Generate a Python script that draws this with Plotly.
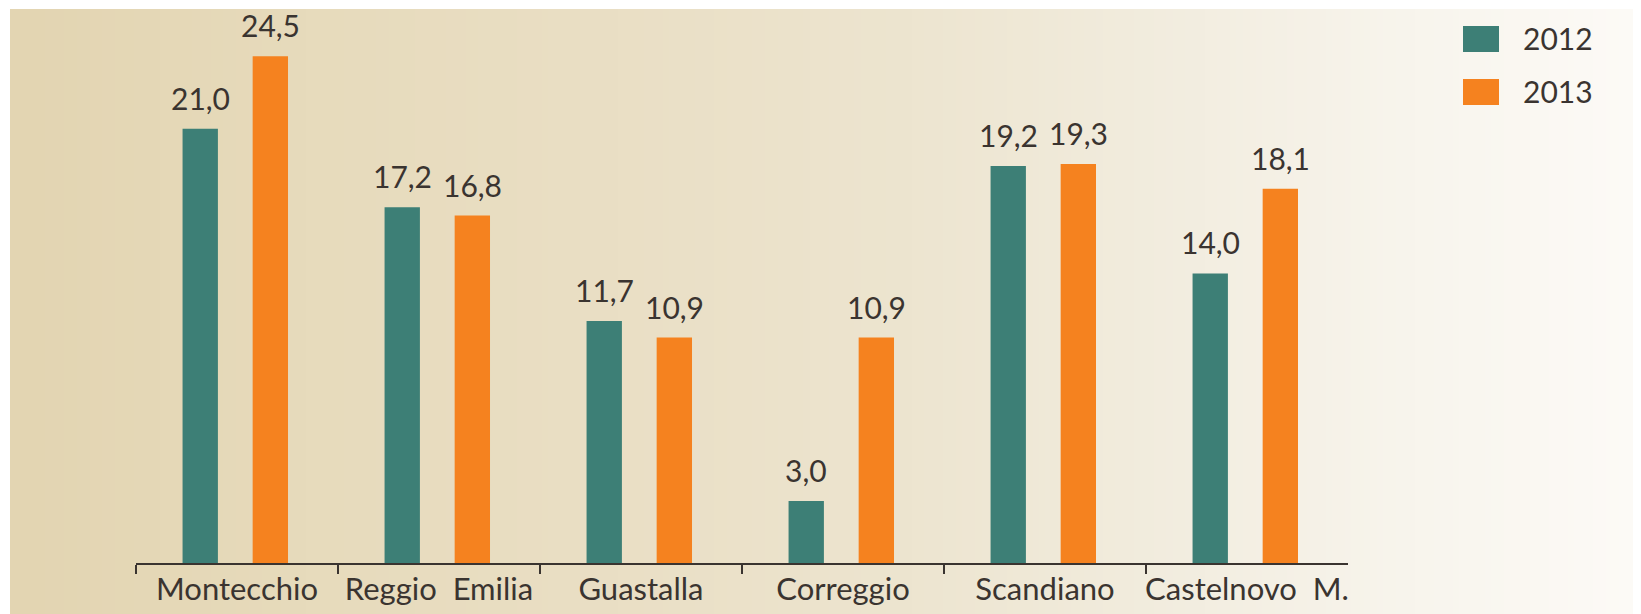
import base64, struct, zlib
import numpy as np
import plotly.graph_objects as go

# ---------------- data ----------------
categories = ["Montecchio", "Reggio  Emilia", "Guastalla", "Correggio", "Scandiano", "Castelnovo  M."]
years = ["2012", "2013"]
values_2012 = [21.0, 17.2, 11.7, 3.0, 19.2, 14.0]
values_2013 = [24.5, 16.8, 10.9, 10.9, 19.3, 18.1]

# ---------------- style ----------------
TEAL = "#3d7f76"
ORANGE = "#f5821f"
TEXT = "#3a3430"
FONT = "Lato"
BODY = 8                                     # default page margin around the plot div
WIN_W, WIN_H = 1641, 614
W, H = WIN_W - BODY, WIN_H - BODY
# plot area in window px
PL, PR, PT, PB = 136, 1348, 9, 563
YMAX = (PB - PT) / 20.68
BAR_W = 0.175
OFFS = [-0.182, 0.165]


def px(x):
    return (x - PL) / (PR - PL)


def py(y):
    return (PB - y) / (PB - PT)


def fmt(v):
    return f"{v:.1f}".replace(".", ",")


# gradient background as a tiny PNG (style only)
stops_x = [0.0, 0.18, 0.37, 0.55, 0.73, 0.86, 1.0]
stops_c = [(227, 213, 178), (231, 219, 188), (234, 223, 197), (237, 229, 208),
           (243, 238, 225), (248, 245, 237), (253, 251, 247)]
NPIX = 256
t = np.linspace(0, 1, NPIX)
rgb = np.stack([np.interp(t, stops_x, [c[k] for c in stops_c]) for k in range(3)], axis=1).astype(np.uint8)


def png_uri(row):
    raw = b"\x00" + row.tobytes()
    def chunk(tag, data):
        c = struct.pack(">I", len(data)) + tag + data
        return c + struct.pack(">I", zlib.crc32(tag + data) & 0xffffffff)
    png = b"\x89PNG\r\n\x1a\n"
    png += chunk(b"IHDR", struct.pack(">IIBBBBB", row.shape[0], 1, 8, 2, 0, 0, 0))
    png += chunk(b"IDAT", zlib.compress(raw))
    png += chunk(b"IEND", b"")
    return "data:image/png;base64," + base64.b64encode(png).decode()


idx = np.arange(len(categories))
fig = go.Figure()
series = [(years[0], values_2012, TEAL, OFFS[0]), (years[1], values_2013, ORANGE, OFFS[1])]
annotations = []
for name, vals, col, off in series:
    fig.add_trace(go.Bar(x=idx + off, y=vals, width=BAR_W, name=name,
                         marker=dict(color=col, line=dict(width=0)), showlegend=False))
    for i, v in enumerate(vals):
        annotations.append(dict(x=i + off, y=v, xref="x", yref="y", text=fmt(v),
                                showarrow=False, yanchor="bottom", yshift=11,
                                font=dict(family=FONT, size=30, color=TEXT)))

# legend (manual, larger keys)
leg_rows = [(years[0], TEAL, 26, 52), (years[1], ORANGE, 79, 105)]
shapes = []
for name, col, y0, y1 in leg_rows:
    shapes.append(dict(type="rect", xref="paper", yref="paper",
                       x0=px(1463), x1=px(1499), y0=py(y1), y1=py(y0),
                       fillcolor=col, line=dict(width=0)))
    annotations.append(dict(x=px(1521), y=py((y0 + y1) / 2 - 1), xref="paper", yref="paper",
                            text=name, showarrow=False, xanchor="left", yanchor="middle",
                            font=dict(family=FONT, size=30, color=TEXT)))

fig.update_layout(
    width=W, height=H,
    margin=dict(l=PL - BODY, r=WIN_W - PR, t=PT - BODY, b=WIN_H - PB, pad=0),
    paper_bgcolor="white", plot_bgcolor="rgba(0,0,0,0)",
    barmode="overlay", showlegend=False,
    annotations=annotations, shapes=shapes,
    images=[dict(source=png_uri(rgb), xref="paper", yref="paper",
                 x=px(10), y=py(9), sizex=px(WIN_W) - px(10), sizey=py(9) - py(WIN_H),
                 sizing="stretch", xanchor="left", yanchor="top", layer="below")],
    xaxis=dict(range=[-0.5, len(categories) - 0.5], tickmode="array",
               tickvals=list(idx), ticktext=categories, ticks="",
               showline=True, linecolor=TEXT, linewidth=1.5, showgrid=False, zeroline=False,
               tickfont=dict(family=FONT, size=31, color=TEXT), ticklabelstandoff=-2,
               minor=dict(tickmode="array", tickvals=list(idx[:-1] - 0.5) + [len(categories) - 1.5],
                          ticks="outside", ticklen=9, tickwidth=1.5, tickcolor=TEXT, showgrid=False)),
    yaxis=dict(range=[0, YMAX], visible=False, fixedrange=True),
)

fig.write_html("out.html")
